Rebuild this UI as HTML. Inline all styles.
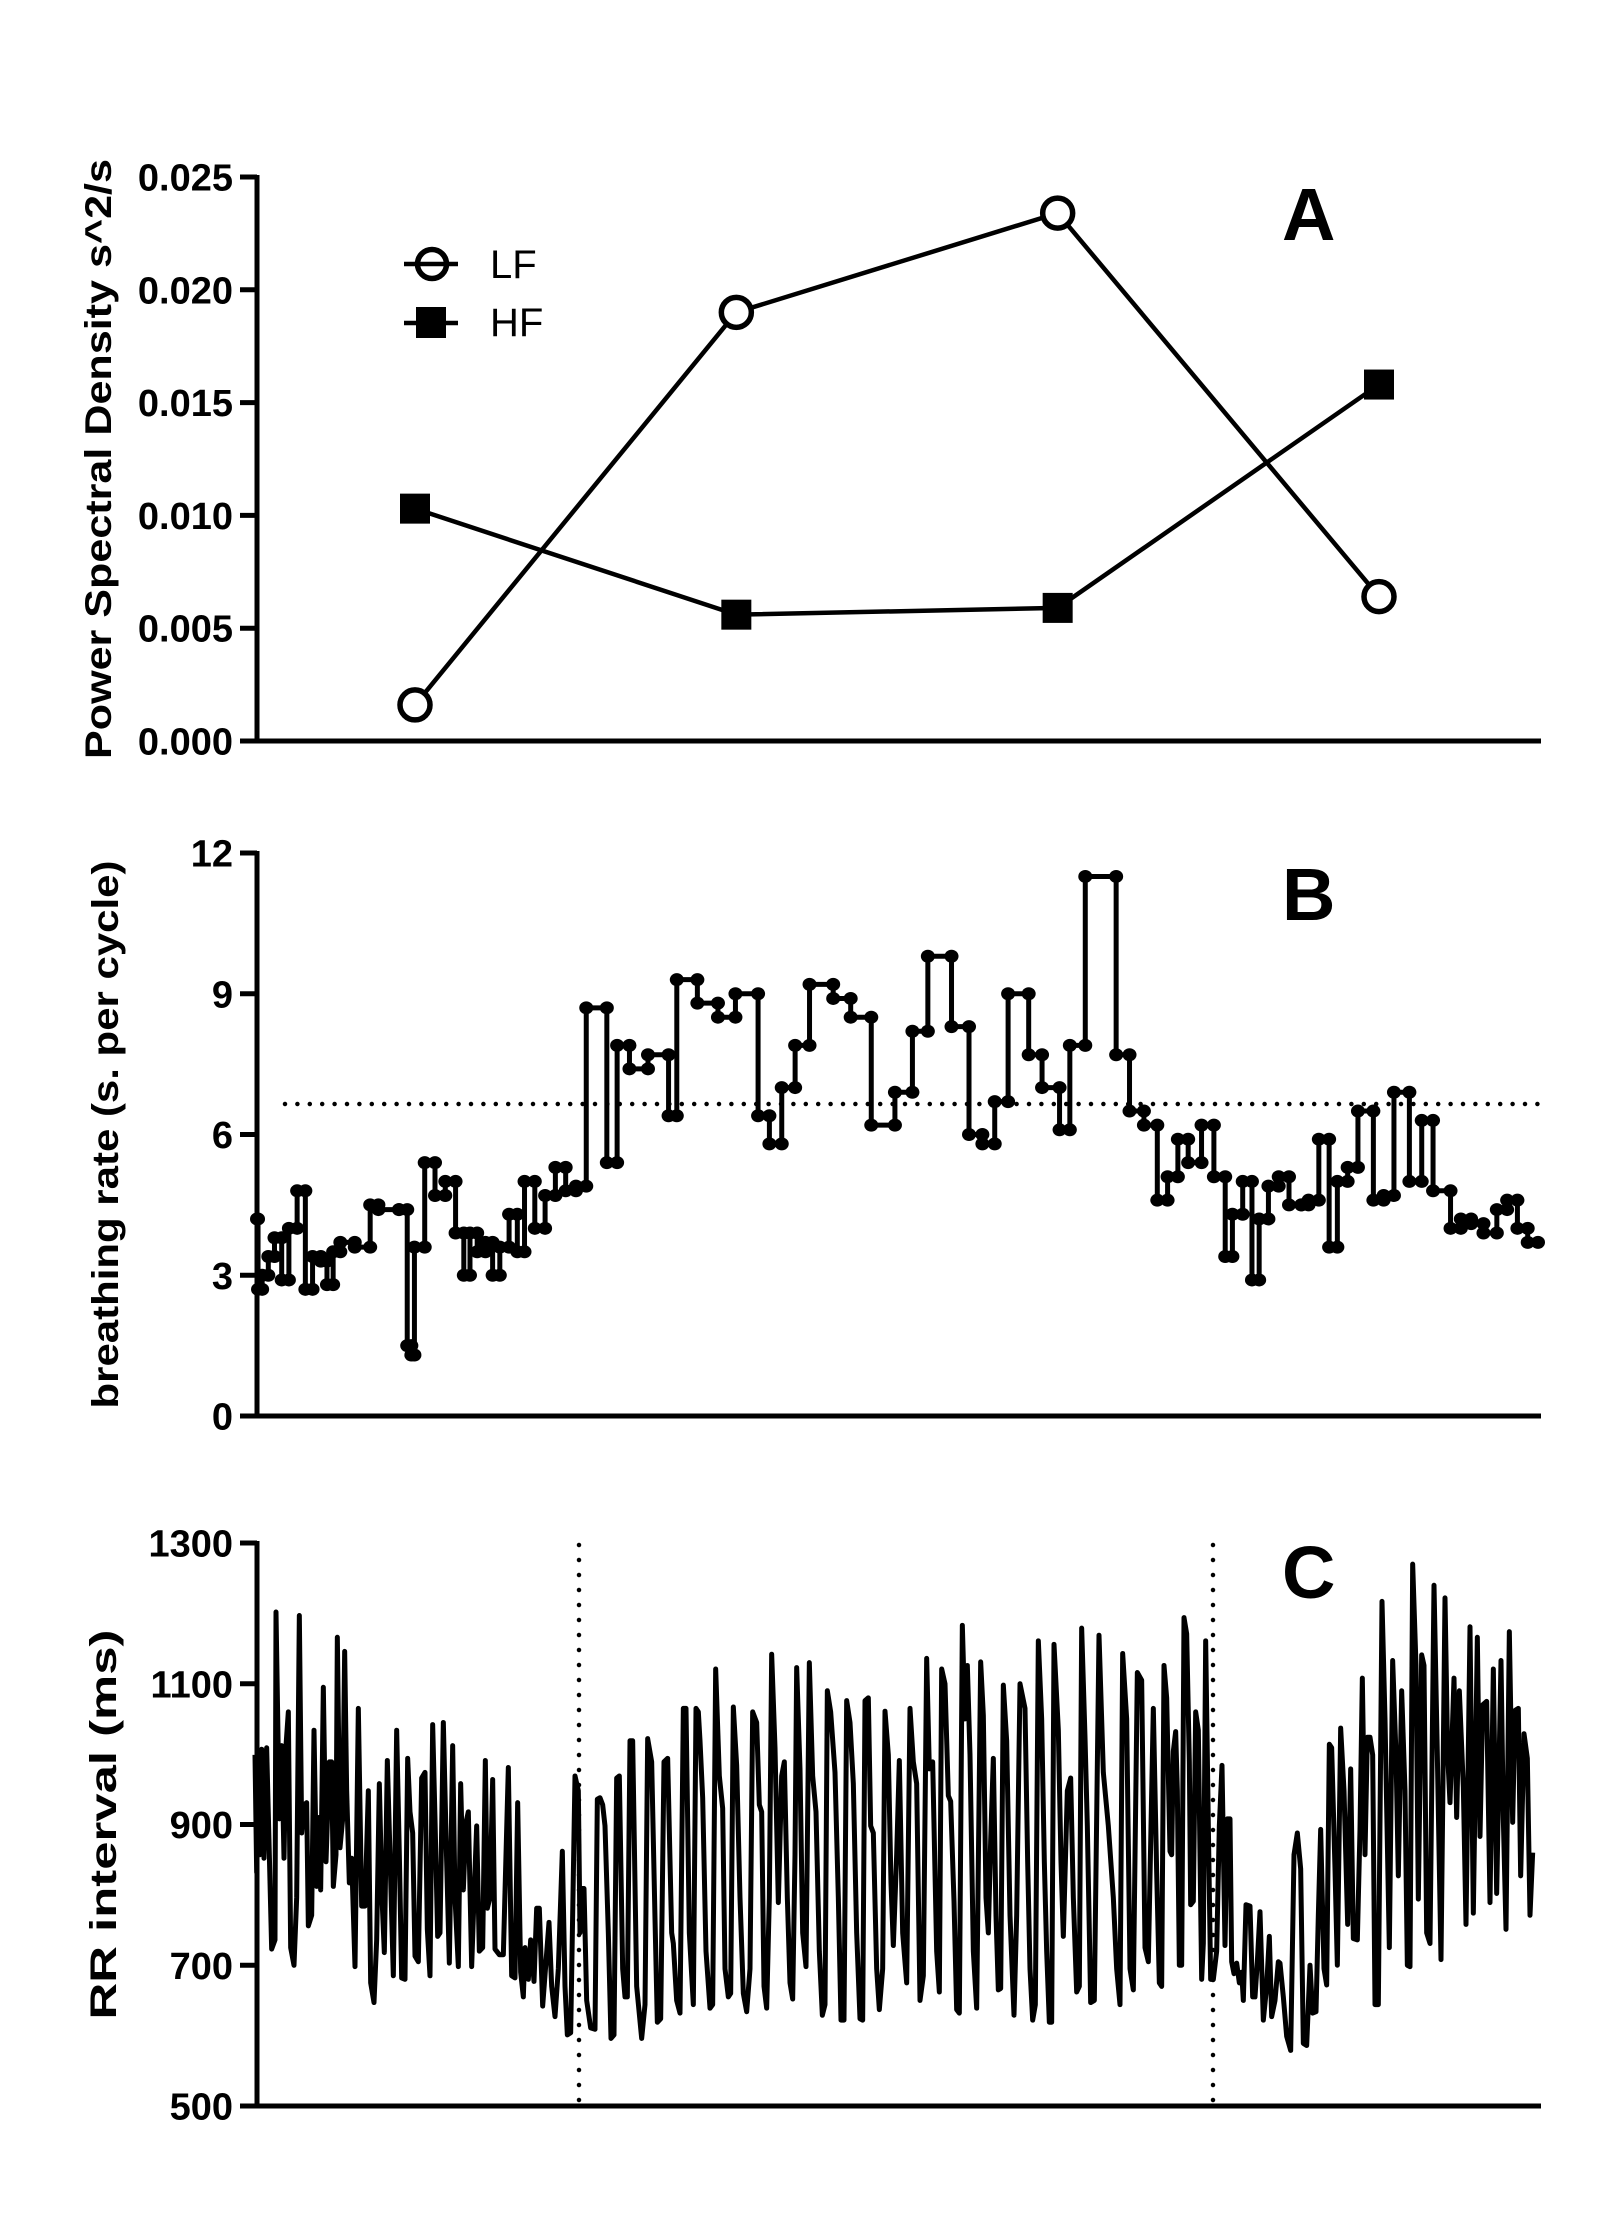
<!DOCTYPE html>
<html><head><meta charset="utf-8"><style>
html,body{margin:0;padding:0;background:#fff;}
svg{display:block;font-family:"Liberation Sans",Arial,sans-serif;}
</style></head><body>
<svg id="fig" width="1600" height="2240" viewBox="0 0 1600 2240" xmlns="http://www.w3.org/2000/svg">
<rect width="1600" height="2240" fill="#fff"/>
<g id="panelA"></g>
<g id="panelB"></g>
<g id="panelC"></g>
</svg>
<script>
// ---------- Panel A data ----------
const psdCategories = ["1","2","3","4"];
const lfValues = [0.0016, 0.0190, 0.0234, 0.0064];
const hfValues = [0.0103, 0.0056, 0.0059, 0.0158];
const psdTicks = ["0.000","0.005","0.010","0.015","0.020","0.025"];
const psdTickValues = [0,0.005,0.010,0.015,0.020,0.025];

// ---------- Panel B data ----------
const breathTimes = [0,1,5,11,17,24,31,39,47,54,62,68,74,81,95,110,118,138,146,150,153,163,173,183,193,201,207,214,222,229,236,245,253,260,270,280,290,300,310,320,340,350,362,380,400,408,428,448,465,487,498,510,523,537,560,577,597,620,637,652,675,692,705,717,730,750,763,780,790,805,835,848,862,875,885,895,905,918,930,941,948,958,967,974,983,993,1003,1015,1022,1032,1042,1050,1060,1070,1085,1095,1105,1120,1132,1143,1160,1170,1180,1192,1205,1215,1225,1235];
const breathRates = [4.2,2.7,3.0,3.4,3.8,2.9,4.0,4.8,2.7,3.4,3.3,2.8,3.5,3.7,3.6,4.5,4.4,4.4,1.5,1.3,3.6,5.4,4.7,5.0,3.9,3.0,3.9,3.5,3.7,3.0,3.6,4.3,3.5,5.0,4.0,4.7,5.3,4.8,4.9,8.7,5.4,7.9,7.4,7.7,6.4,9.3,8.8,8.5,9.0,6.4,5.8,7.0,7.9,9.2,8.9,8.5,6.2,6.9,8.2,9.8,8.3,6.0,5.8,6.7,9.0,7.7,7.0,6.1,7.9,11.5,7.7,6.5,6.2,4.6,5.1,5.9,5.4,6.2,5.1,3.4,4.3,5.0,2.9,4.2,4.9,5.1,4.5,4.5,4.6,5.9,3.6,5.0,5.3,6.5,4.6,4.7,6.9,5.0,6.3,4.8,4.0,4.2,4.1,3.9,4.4,4.6,4.0,3.7];
const breathEnd = 1245;
const breathMean = 6.65;
const rateTicks = ["0","3","6","9","12"];
const rateTickValues = [0,3,6,9,12];

// ---------- Panel C data ----------
const rrTimes = [0,5,10,15,20,27,35,43,50,60,63,73,80,87,93,100,107,117,125,133,140,147,155,160,170,177,185,192,197,205,213,223,230,235,243,247,255,263,269,275,283,290,300,310,320,330,340,347,357,365,373,381,388,397,405,415,425,433,440,450,458,465,473,480,490,500,510,517,525,533,540,548,555,565,575,583,593,600,610,617,625,633,640,650,657,665,673,683,691,697,705,713,720,733,745,760,770,780,788,797,805,810,820,827,837,845,853,863,873,882,890,900,910,922,930,937,947,960,970,975,980,987,995,1007,1020,1027,1035,1043,1050,1060,1068,1077,1085,1093,1103,1110,1117,1125,1133,1145,1160,1170,1178,1190,1200,1207,1217,1227,1238,1250,1255,1265,1275,1285,1293,1303,1315,1323,1330,1335,
1343,1353,1365,1373,1382,1393,1403,1410,1420,1427,1435,1445,1455,1465,1475,1485,1493,1505,1513,1520,1527,1535,1543,1550,1560,1570,1580,1588,1597,1605,1613,1620,1625,1635,1643,1653,1663,1673,1683,1693,1702,1710,1717,1727,1740,1750,1758,1767,1775,1785,1795,1805,1815,1823,1830,1840,1847,1855,1865,1873,1883,1890,1900,1908,1915,1925,1933,1943,1955,1965,1975,1985,1995,2005,2015,2023,2033,2045,2053,2060,2070,2080,2087,2097,2105,2113,2122,2130,2137,2145,2155,2165,2177,2185,2193,2200,2207,2215,2223,2230,2237,2245,2255,2265,2277,2285,2295,2310,2318,2325,2333,2341,2350,2360,2368,2375,2383,2390,2397,2410,2418,2425,2437,2447,2455,2465,2473,2480,2490,2497,2507,2518,2532,2545,2560,2575,2585,2595,2603,2615,
2625,2635,2647,2660,2670,2680,2695,2705,2713,2720,2727,2735,2745,2750,2755,2762,2767,2773,2780,2787,2795,2803,2807,2815,2822,2830,2840,2845,2852,2860,2867,2875,2885,2893,2901,2910,2917,2925,2930,2937,2945,2953,2960,2965,2973,2985,2993,3000,3007,3015,3025,3035,3043,3050,3060,3070,3075,3085,3095,3107,3117,3127,3137,3145,3155,3165,3173,3183,3190,3197,3207,3215,3223,3230,3240,3247,3257,3267,3278,3287,3295,3307,3315,3322,3330,3337,3345,3353,3360,3370,3381,3390,3403,3413,3423,3430,3440,3450,3457,3465,3473,3483,3490,3500,3507,3515,3525,3537,3547,3558,3570,3578,3585,3597,3605,3613,3625,3633,3645,3655,3667,3675,3683,3695,3705,3715,3725,3738,3745,3753,3763,3773,3780,3790,3797,3807,3817,3825,3833];
const rrValues = [999,832,1004,857,1007,852,1009,857,723,736,1202,908,1012,852,1012,1060,725,700,796,1197,888,928,931,756,771,1034,812,910,807,1095,847,989,989,812,857,1166,867,908,1146,948,817,852,698,1065,784,784,948,675,647,736,958,796,718,991,857,685,1034,857,682,680,994,918,888,713,705,966,974,751,685,1042,908,741,746,1045,847,703,1012,796,698,958,807,903,918,698,796,898,720,725,991,781,796,964,723,715,715,981,685,682,931,690,655,725,680,736,677,781,781,642,705,761,670,627,695,862,670,601,604,969,948,746,809,809,650,611,609,936,938,928,898,746,596,601,966,969,695,655,655,1019,1019,670,596,644,1022,989,766,619,624,989,994,746,731,650,632,1065,1065,746,644,1065,1060,1019,
938,720,639,644,1121,969,923,695,655,660,1067,984,796,660,634,695,1060,1045,928,918,670,639,796,1142,1009,789,969,989,796,675,652,857,1123,979,746,698,1130,969,918,720,629,644,1090,1060,974,796,622,622,1076,1045,958,746,624,622,1076,1080,898,888,695,637,695,1061,999,817,728,857,991,746,675,1065,989,958,650,685,1136,979,989,720,662,1121,1100,941,933,791,637,632,1183,1050,1126,999,720,639,1131,1055,796,746,877,994,771,665,667,1098,1019,771,629,771,1100,1065,847,695,622,644,1161,1050,847,720,619,619,1156,1034,847,741,948,966,796,662,670,1179,1024,898,647,650,1169,974,898,796,695,644,1143,1050,
695,665,1116,1105,725,705,1065,832,675,670,1126,1080,862,857,1004,1032,948,700,700,1194,1171,989,786,791,1060,1034,680,731,1161,898,680,680,720,898,984,728,908,908,705,688,703,675,690,650,786,784,655,655,705,776,622,670,741,627,650,705,703,655,599,579,857,888,837,589,586,700,632,634,771,893,695,672,1014,1009,837,700,1037,948,758,979,738,736,893,1108,857,1024,1024,999,644,644,1217,1050,725,1133,999,827,1090,948,700,698,1270,1126,794,1141,1126,746,731,1240,999,708,1222,999,931,1108,910,1090,953,758,1181,774,1166,883,1070,1075,789,1121,802,1133,908,751,1174,903,1062,1065,827,1029,994,771,860];
const rrTimeMax = 3888;
const rrMarkers = [972, 2874];
const rrTicks = ["500","700","900","1100","1300"];
const rrTickValues = [500,700,900,1100,1300];

const NS = "http://www.w3.org/2000/svg";
function mk(parent, tag, attrs){
  const e = document.createElementNS(NS, tag);
  for (const k in attrs) e.setAttribute(k, attrs[k]);
  parent.appendChild(e);
  return e;
}
const AX_X = 257, AX_R = 1541;

function drawAxes(g, yScale, ticks, tickVals, yTop, yBot, title, titleLen, titleX, letter, letterY, prefix){
  const ax = mk(g, "line", {x1:AX_X, y1:yTop-2, x2:AX_X, y2:yBot+2, stroke:"#000","stroke-width":5});
  
  
  const bx = mk(g, "line", {x1:240, y1:yBot, x2:AX_R, y2:yBot, stroke:"#000","stroke-width":5});
  
  
  tickVals.forEach((v,i)=>{
    const y = yScale(v);
    const t = mk(g, "line", {x1:240, y1:y, x2:AX_X, y2:y, stroke:"#000","stroke-width":5});
    
    
    const lb = mk(g, "text", {x:233, y:y+13.5, "text-anchor":"end","font-size":38,"font-weight":"bold"});
    lb.textContent = ticks[i];
    
    
  });
  const cy = (yTop+yBot)/2;
  const tt = mk(g, "text", {x:0, y:0, transform:`translate(${titleX},${cy}) rotate(-90)`, "text-anchor":"middle","font-size":37,"font-weight":"bold", textLength:titleLen, lengthAdjust:"spacingAndGlyphs"});
  tt.textContent = title;
  
  
  const L = mk(g, "text", {x:1282, y:letterY, "font-size":74,"font-weight":"bold"});
  L.textContent = letter;
  
  
}

// ---------- Panel A ----------
(function(){
  const g = document.getElementById("panelA");
  const yTop=177, yBot=741;
  const y = v => yBot - v/0.025*(yBot-yTop);
  const x0 = 415, x3 = 1379;
  const x = i => x0 + i*(x3-x0)/(psdCategories.length-1);
  drawAxes(g, y, psdTicks, psdTickValues, yTop, yBot, "Power Spectral Density s^2/s", 600, 111, "A", 240, "psd");
  const lfP = lfValues.map((v,i)=>x(i)+","+y(v)).join(" ");
  const lfl = mk(g,"polyline",{points:lfP, fill:"none", stroke:"#000","stroke-width":4.5});
  
  
  const hfP = hfValues.map((v,i)=>x(i)+","+y(v)).join(" ");
  const hfl = mk(g,"polyline",{points:hfP, fill:"none", stroke:"#000","stroke-width":4.5});
  
  
  lfValues.forEach((v,i)=>{
    const c = mk(g,"circle",{cx:x(i), cy:y(v), r:15, fill:"#fff", stroke:"#000","stroke-width":5.5});
    
    
  });
  hfValues.forEach((v,i)=>{
    const r = mk(g,"rect",{x:x(i)-15, y:y(v)-15, width:30, height:30, fill:"#000"});
    
    
  });
  const lg = mk(g,"g",{});
  
  
  const e1 = mk(lg,"g",{});
  
  
  mk(e1,"line",{x1:404,y1:264,x2:458,y2:264,stroke:"#000","stroke-width":4.5});
  mk(e1,"circle",{cx:432,cy:264,r:14.5,fill:"none",stroke:"#000","stroke-width":5.5});
  const t1 = mk(e1,"text",{x:490,y:278,"font-size":40}); t1.textContent="LF";
  const e2 = mk(lg,"g",{});
  
  
  mk(e2,"line",{x1:404,y1:323,x2:458,y2:323,stroke:"#000","stroke-width":4.5});
  mk(e2,"rect",{x:416,y:307,width:30,height:31,fill:"#000"});
  const t2 = mk(e2,"text",{x:490,y:336,"font-size":40}); t2.textContent="HF";
})();

// ---------- Panel B ----------
(function(){
  const g = document.getElementById("panelB");
  const yTop=853, yBot=1416;
  const y = v => yBot - v/12*(yBot-yTop);
  const x = t => 257 + t/breathEnd*(1538-257);
  drawAxes(g, y, rateTicks, rateTickValues, yTop, yBot, "breathing rate (s. per cycle)", 548, 118, "B", 920, "rate");
  const mean = mk(g,"line",{x1:285, y1:y(breathMean), x2:AX_R, y2:y(breathMean), stroke:"#000","stroke-width":4.5,"stroke-dasharray":"0 12.4","stroke-linecap":"round"});
  
  
  let d = "";
  breathRates.forEach((v,i)=>{
    const t0 = breathTimes[i];
    const t1 = i+1<breathTimes.length ? breathTimes[i+1] : breathEnd;
    d += (i===0 ? "M" : "L") + x(t0) + "," + y(v) + " L" + x(t1) + "," + y(v) + " ";
  });
  const st = mk(g,"path",{d:d, fill:"none", stroke:"#000","stroke-width":5});
  
  
  breathRates.forEach((v,i)=>{
    const t0 = breathTimes[i];
    const t1 = i+1<breathTimes.length ? breathTimes[i+1] : breathEnd;
    [t0,t1].forEach(t=>{
      const c = mk(g,"ellipse",{cx:x(t), cy:y(v), rx:7, ry:6.5, fill:"#000"});
      
      
    });
  });
})();

// ---------- Panel C ----------
(function(){
  const g = document.getElementById("panelC");
  const yTop=1543, yBot=2106;
  const y = v => yBot - (v-500)/800*(yBot-yTop);
  const x = t => 255 + t/rrTimeMax*(1551-255);
  drawAxes(g, y, rrTicks, rrTickValues, yTop, yBot, "RR interval (ms)", 390, 116, "C", 1598, "rr");
  const pts = rrValues.map((v,i)=>x(rrTimes[i])+","+y(v)).join(" ");
  const pl = mk(g,"polyline",{points:pts, fill:"none", stroke:"#000","stroke-width":5,"stroke-linejoin":"round"});
  
  
  rrMarkers.forEach(t=>{
    const l = mk(g,"line",{x1:x(t), y1:yTop+2, x2:x(t), y2:yBot, stroke:"#000","stroke-width":4.5,"stroke-dasharray":"0 15","stroke-linecap":"round"});
    
    
  });
})();
</script>
</body></html>
